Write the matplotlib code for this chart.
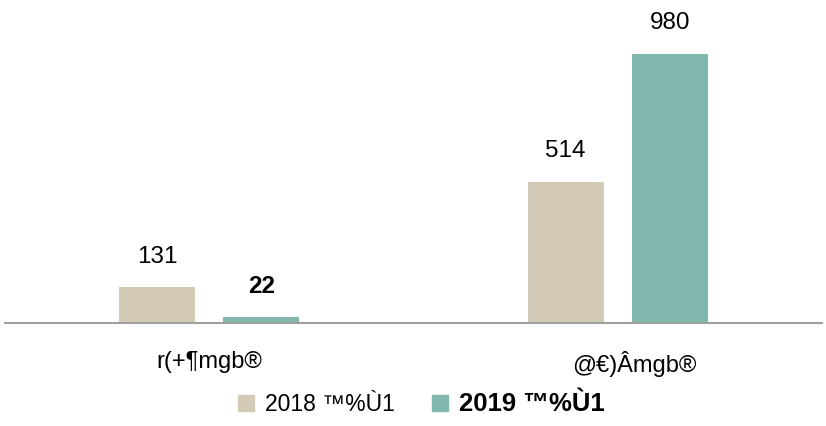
import numpy as np
import matplotlib
matplotlib.use("Agg")
import matplotlib.pyplot as plt
from matplotlib.patches import Patch
from matplotlib.transforms import ScaledTranslation

plt.rcParams['font.family'] = ['Liberation Sans', 'DejaVu Sans']

# data
categories = ['r(+¶mgb®', '@€)Âmgb®']
series_names = ['2018 ™%Ù1', '2019 ™%Ù1']
values_2018 = [131, 514]
values_2019 = [22, 980]

colors = ['#D3CBB8', '#80B8AE']
label_weights_2018 = ['normal', 'normal']
label_weights_2019 = ['bold', 'normal']

fig = plt.figure(figsize=(8.26, 4.26), dpi=100)
ax = fig.add_axes([0.006, 0.2418, 0.989, 0.7347])

x = np.arange(len(categories))
w = 0.186
off = 0.1275

b1 = ax.bar(x - off, values_2018, w, color=colors[0])
b2 = ax.bar(x + off, values_2019, w, color=colors[1])

for rect, v, fw in zip(b1, values_2018, label_weights_2018):
    ax.annotate(str(v), (rect.get_x() + rect.get_width() / 2, v),
                xytext=(0, 14), textcoords='offset points',
                ha='center', va='bottom', fontsize=17.5, fontweight=fw)
for rect, v, fw in zip(b2, values_2019, label_weights_2019):
    ax.annotate(str(v), (rect.get_x() + rect.get_width() / 2, v),
                xytext=(0, 14), textcoords='offset points',
                ha='center', va='bottom', fontsize=17.5, fontweight=fw)

ax.set_xlim(-0.5, 1.5)
ax.set_ylim(0, 1140)
ax.set_xticks(x)
ax.set_xticklabels(categories, fontsize=17)
ax.tick_params(axis='x', length=0, pad=20)
ax.set_yticks([])
for s in ['top', 'right', 'left']:
    ax.spines[s].set_visible(False)
ax.spines['bottom'].set_color('#A0A0A0')
ax.spines['bottom'].set_linewidth(1.5)

# the second category label sits a bit right of its group in the original
lbl = ax.get_xticklabels()[1]
lbl.set_transform(lbl.get_transform() + ScaledTranslation(12 / 72, 0, fig.dpi_scale_trans))

handles = [Patch(color=c) for c in colors]
leg = fig.legend(handles, series_names, loc='center', bbox_to_anchor=(0.51, 0.052),
                 ncol=2, frameon=False, fontsize=16.5, handlelength=0.7,
                 handleheight=0.7, handletextpad=0.5, columnspacing=1.6)
leg.get_texts()[1].set_fontweight('bold')
leg.get_texts()[1].set_fontsize(18.5)

fig.savefig('out.png', dpi=100)
